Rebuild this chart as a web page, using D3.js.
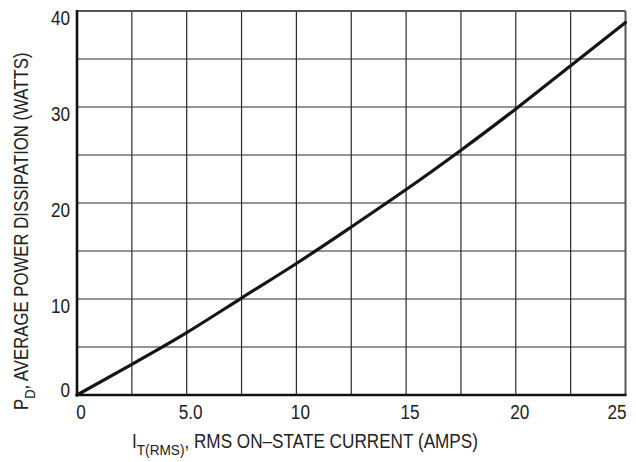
<!DOCTYPE html>
<html>
<head>
<meta charset="utf-8">
<script src="https://cdn.jsdelivr.net/npm/d3@7"></script>
<style>
  html, body { margin: 0; padding: 0; background: #fff; }
  svg text { font-family: "Liberation Sans", Arial, sans-serif; fill: #222; }
</style>
</head>
<body>
<svg id="chart" width="636" height="462"></svg>
<script>
// On-state current (A) and average power dissipation (W)
const currentAmps = [0, 2.5, 5, 7.5, 10, 12.5, 15, 17.5, 20, 22.5, 25];
const powerWatts  = [0, 3.2, 6.5, 10.1, 13.7, 17.5, 21.4, 25.5, 29.8, 34.3, 38.8];

const xTicks = [0, 5, 10, 15, 20, 25];
const xTickLabels = ["0", "5.0", "10", "15", "20", "25"];
const xGrid = [2.5, 5, 7.5, 10, 12.5, 15, 17.5, 20, 22.5];
const yTicks = [0, 10, 20, 30, 40];
const yGrid = [5, 10, 15, 20, 25, 30, 35];

const svg = d3.select("#chart");
const plotL = 77, plotR = 625.5, plotT = 11, plotB = 395;
const narrow = 0.88;   // horizontal squeeze for a condensed type look
const fs = 19.5;

const x = d3.scaleLinear().domain([0, 25]).range([plotL, plotR]);
const y = d3.scaleLinear().domain([0, 40]).range([plotB, plotT]);

// grid
svg.append("g").selectAll("line").data(xGrid).join("line")
  .attr("x1", d => x(d)).attr("x2", d => x(d))
  .attr("y1", plotT).attr("y2", plotB)
  .attr("stroke", "#2a2a2a").attr("stroke-width", 1.2);
svg.append("g").selectAll("line").data(yGrid).join("line")
  .attr("x1", plotL).attr("x2", plotR)
  .attr("y1", d => y(d)).attr("y2", d => y(d))
  .attr("stroke", "#2a2a2a").attr("stroke-width", 1.2);

// frame: top and right in grey, left and bottom heavy
svg.append("line").attr("x1", plotL).attr("x2", plotR).attr("y1", plotT).attr("y2", plotT)
  .attr("stroke", "#555").attr("stroke-width", 2);
svg.append("line").attr("x1", plotR).attr("x2", plotR).attr("y1", plotT).attr("y2", plotB)
  .attr("stroke", "#555").attr("stroke-width", 2);
svg.append("line").attr("x1", plotL).attr("x2", plotL).attr("y1", plotT - 1).attr("y2", plotB + 1.3)
  .attr("stroke", "#111").attr("stroke-width", 2.6);
svg.append("line").attr("x1", plotL - 1.3).attr("x2", plotR + 1).attr("y1", plotB).attr("y2", plotB)
  .attr("stroke", "#111").attr("stroke-width", 2.6);

// curve
const line = d3.line()
  .x((d, i) => x(currentAmps[i]))
  .y(d => y(d))
  .curve(d3.curveNatural);
svg.append("path").datum(powerWatts)
  .attr("d", line)
  .attr("fill", "none").attr("stroke", "#151515").attr("stroke-width", 3.2)
  .attr("stroke-linecap", "round");

// x tick labels
svg.append("g").selectAll("text").data(xTicks).join("text")
  .attr("transform", (d, i) => {
    const px = i === xTicks.length - 1 ? x(d) + 1 : x(d) + 4;
    return `translate(${px},419) scale(${narrow},1)`;
  })
  .attr("text-anchor", (d, i) => i === xTicks.length - 1 ? "end" : "middle")
  .attr("font-size", fs)
  .text((d, i) => xTickLabels[i]);

// y tick labels
svg.append("g").selectAll("text").data(yTicks).join("text")
  .attr("transform", d => `translate(70,${d === 0 ? y(d) + 2 : y(d) + 14}) scale(${narrow},1)`)
  .attr("text-anchor", "end")
  .attr("font-size", fs)
  .text(d => d);

// x axis title
const xt = svg.append("text")
  .attr("transform", `translate(132,448) scale(${narrow},1)`)
  .attr("font-size", fs);
xt.append("tspan").text("I");
xt.append("tspan").attr("dy", 7).attr("font-size", 15.5).text("T(RMS)");
xt.append("tspan").attr("dy", -7).text(", RMS ON\u2013STATE CURRENT (AMPS)");

// y axis title
const yt = svg.append("text")
  .attr("transform", "translate(28,410) rotate(-90) scale(0.86,1)")
  .attr("font-size", fs);
yt.append("tspan").text("P");
yt.append("tspan").attr("dy", 7).attr("font-size", 15).text("D");
yt.append("tspan").attr("dy", -7).text(", AVERAGE POWER DISSIPATION (WATTS)");
</script>
</body>
</html>
